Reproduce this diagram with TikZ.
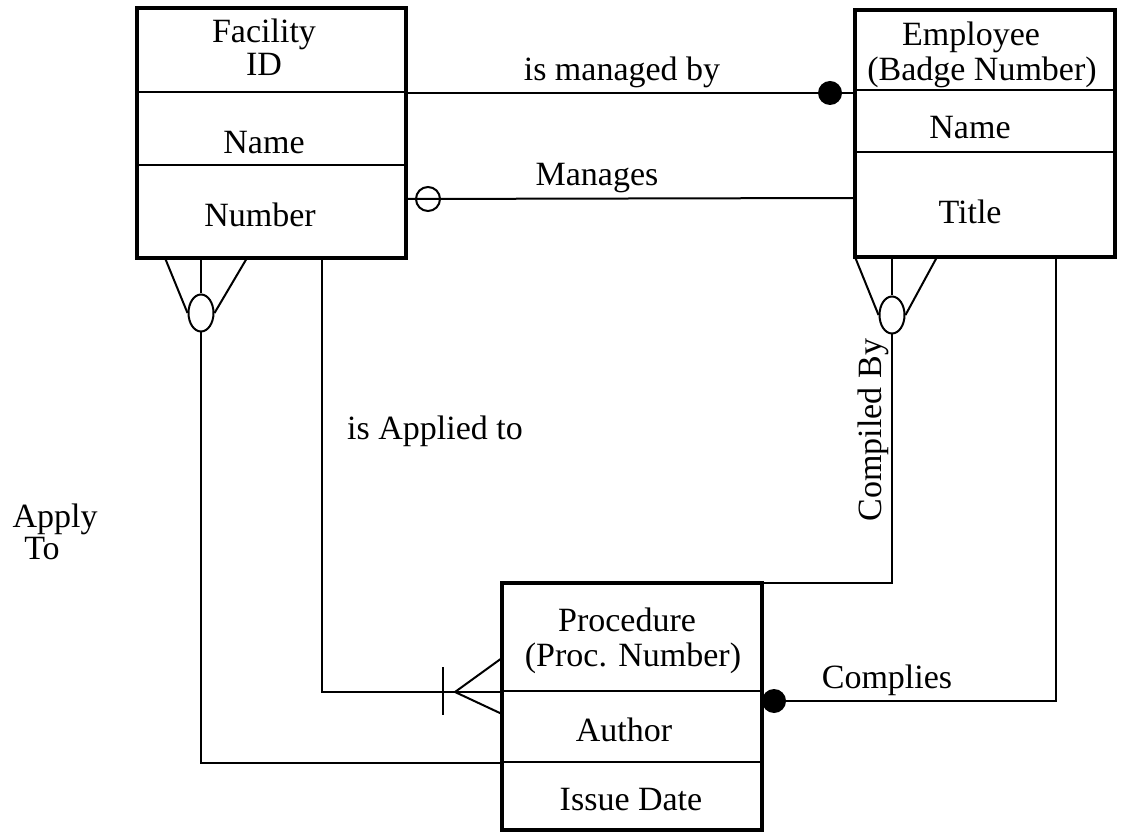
\documentclass[tikz,border=0pt]{standalone}
\usepackage{fontspec}
\setmainfont{Liberation Serif}
\usetikzlibrary{calc,shapes.geometric}
\begin{document}
\begin{tikzpicture}[x=0.5pt,y=-0.5pt,
  entity/.style={draw,line width=1.7pt,inner sep=0pt,outer sep=0pt},
  txt/.style={font=\fontsize{17}{17}\selectfont,inner sep=0pt,align=center},
  link/.style={line width=1pt},
  divider/.style={line width=1.1pt},
  fulldot/.style={circle,fill,inner sep=0pt,minimum size=12pt},
  ring/.style={circle,draw,line width=1pt,inner sep=0pt,minimum size=12pt},
  oval/.style={ellipse,draw,line width=1pt,inner sep=0pt,minimum width=12.5pt,minimum height=18.5pt}]
\useasboundingbox (0,0) rectangle (1123,833);

% entities
\node[entity,minimum width=134.5pt,minimum height=125pt] (fac) at (271.5,133) {};
\node[entity,minimum width=130pt,minimum height=123.5pt] (emp) at (985,133.5) {};
\node[entity,minimum width=130pt,minimum height=123.5pt] (proc) at (632,706.5) {};

% compartments
\draw[divider] (fac.west |- 0,92) -- (fac.east |- 0,92);
\draw[divider] (fac.west |- 0,165) -- (fac.east |- 0,165);
\draw[divider] (emp.west |- 0,90) -- (emp.east |- 0,90);
\draw[divider] (emp.west |- 0,152) -- (emp.east |- 0,152);
\draw[divider] (proc.west |- 0,691) -- (proc.east |- 0,691);
\draw[divider] (proc.west |- 0,762) -- (proc.east |- 0,762);

% attributes (key lines set on their own baselines)
\node[txt,anchor=base] (facname1) at (264,43) {Facility};
\node[txt,anchor=base] (facid) at (264,76) {ID};
\node[txt] (facname) at (264,143) {Name};
\node[txt] (facnum) at (260,215) {Number};
\node[txt,anchor=base] (empname1) at (971,46) {Employee};
\node[txt,anchor=base] (empid) at (982,81) {(Badge Number)};
\node[txt] (empname) at (970,128) {Name};
\node[txt] (emptitle) at (970,212) {Title};
\node[txt,anchor=base] (procname1) at (627,631) {Procedure};
\node[txt,anchor=base] (procid) at (633,666) {(Proc. Number)};
\node[txt] (procauth) at (624,730) {Author};
\node[txt] (procdate) at (631,800) {Issue Date};

% is managed by / Manages
\draw[link] (fac.east |- 0,93) -- (emp.west |- 0,93);
\node[fulldot] (mgdot) at (830,93) {};
\draw[link] (fac.east |- 0,199) -- (emp.west |- 0,198);
\node[ring] (mgring) at (428,199) {};
\node[txt] (lblmgd) at (622,72) {is managed by};
\node[txt] (lblmg) at (597,178) {Manages};

% Apply To (crow's foot under Facility)
\node[oval] (facoval) at (201,313) {};
\draw[link] (fac.south -| 165,0) -- (facoval.west);
\draw[link] (fac.south -| 247,0) -- (facoval.east);
\draw[link] (fac.south -| facoval) -- (facoval.north);
\draw[link] (facoval.south) |- (proc.west |- 0,763);
\node[txt] (lblapply) at (55,519) {Apply};
\node[txt] (lblto) at (42,549) {To};

% is Applied to
\draw[link] (fac.south -| 322,0) |- (proc.west |- 0,692);
\coordinate (footpt) at (455,692);
\draw[link] (footpt) -- (proc.west |- 0,658);
\draw[link] (footpt) -- (proc.west |- 0,714);
\draw[link] (443,667) -- (443,715);
\node[txt] (lblapp) at (435,431) {is Applied to};

% Compiled By (crow's foot under Employee)
\node[oval] (empoval) at (892,315) {};
\draw[link] (emp.south west) -- (empoval.west);
\draw[link] (emp.south -| 937,0) -- (empoval.east);
\draw[link] (emp.south -| empoval) -- (empoval.north);
\draw[link] (empoval.south) |- (proc.north east);
\node[txt,rotate=90] (lblcomp) at (873,430) {Compiled By};

% Complies
\draw[link] (emp.south -| 1056,0) |- (proc.east |- 0,701);
\node[fulldot] (cpdot) at (774,701) {};
\node[txt] (lblcpl) at (887,680) {Complies};
\end{tikzpicture}
\end{document}
